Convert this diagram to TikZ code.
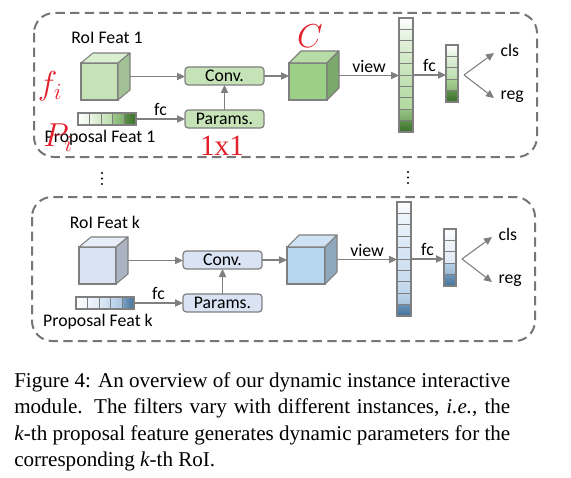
\documentclass[tikz,border=0pt]{standalone}
\usepackage{fontspec}
\setmainfont{Liberation Serif}
\newfontfamily\diafont{Carlito}
\usetikzlibrary{arrows.meta}
\definecolor{lc}{HTML}{7F7F7F}
\definecolor{dashc}{HTML}{767676}
\definecolor{annot}{HTML}{E3202B}
% green panel
\definecolor{gAfront}{HTML}{C6E3B7}
\definecolor{gAtop}{HTML}{DAEFD0}
\definecolor{gAside}{HTML}{A2C295}
\definecolor{gBfront}{HTML}{9DD087}
\definecolor{gBtop}{HTML}{B7DDA6}
\definecolor{gBside}{HTML}{7BA86B}
\definecolor{gbox}{HTML}{C6E3B7}
\definecolor{gmid}{HTML}{ADD79A}
\definecolor{gdark}{HTML}{3A7029}
% blue panel
\definecolor{bAfront}{HTML}{DAE3F3}
\definecolor{bAtop}{HTML}{E8EEF9}
\definecolor{bAside}{HTML}{ABB2C2}
\definecolor{bBfront}{HTML}{B5D6EE}
\definecolor{bBtop}{HTML}{CFE3F4}
\definecolor{bBside}{HTML}{8FA8BE}
\definecolor{bbox}{HTML}{DAE3F3}
\definecolor{bmid}{HTML}{C3D9EF}
\definecolor{bdark}{HTML}{41729C}
% bar shadings (path is mapped to 25bp..75bp)
\pgfdeclareverticalshading{gtall}{100bp}{color(0bp)=(gdark); color(25bp)=(gdark); color(29.9bp)=(gdark!70!gmid);
  color(30.1bp)=(gdark!45!gmid); color(34.9bp)=(gdark!20!gmid); color(35.1bp)=(gmid!95!white);
  color(45bp)=(gmid!78!white); color(55bp)=(gmid!60!white); color(65bp)=(gmid!38!white);
  color(70bp)=(gmid!20!white); color(75bp)=(white); color(100bp)=(white)}
\pgfdeclareverticalshading{btall}{100bp}{color(0bp)=(bdark); color(25bp)=(bdark); color(29.9bp)=(bdark!70!bmid);
  color(30.1bp)=(bmid!80!bdark); color(35bp)=(bmid!95!bdark); color(40bp)=(bmid!92!white);
  color(55bp)=(bmid!65!white); color(70bp)=(bmid!25!white); color(75bp)=(white); color(100bp)=(white)}
\pgfdeclareverticalshading{gsmall}{100bp}{color(0bp)=(gdark); color(25bp)=(gdark); color(34.9bp)=(gdark!70!gmid);
  color(35.1bp)=(gmid!72!gdark); color(44.9bp)=(gmid!95!gdark); color(45.1bp)=(gmid!85!white);
  color(55bp)=(gmid!60!white); color(65bp)=(gmid!35!white); color(75bp)=(white); color(100bp)=(white)}
\pgfdeclareverticalshading{bsmall}{100bp}{color(0bp)=(bdark); color(25bp)=(bdark); color(34.9bp)=(bdark!65!bmid);
  color(35.1bp)=(bdark!30!bmid); color(44.9bp)=(bdark!10!bmid); color(45.1bp)=(bmid!55!white);
  color(55bp)=(bmid!40!white); color(65bp)=(bmid!25!white); color(75bp)=(white); color(100bp)=(white)}
\pgfdeclarehorizontalshading{gprop}{100bp}{color(0bp)=(white); color(25bp)=(white); color(35bp)=(gmid!25!white);
  color(45bp)=(gmid!55!white); color(55bp)=(gmid!85!white); color(55.1bp)=(gmid!85!gdark);
  color(64.9bp)=(gmid!60!gdark); color(65.1bp)=(gdark!70!gmid); color(75bp)=(gdark); color(100bp)=(gdark)}
\pgfdeclarehorizontalshading{bprop}{100bp}{color(0bp)=(white); color(25bp)=(white); color(45bp)=(bmid!55!white);
  color(55bp)=(bmid); color(64.9bp)=(bmid!80!bdark); color(65.1bp)=(bdark!55!bmid);
  color(75bp)=(bdark); color(100bp)=(bdark)}
\tikzset{
  dashbox/.style={draw=dashc, line width=1.5pt, dash pattern=on 7pt off 4pt, rounded corners=15pt},
  face/.style={draw=lc, line width=0.8pt, outer sep=0pt, inner sep=0pt},
  faceline/.style={draw=lc, line width=0.8pt, line join=round},
  opbox/.style={draw=lc, line width=0.9pt, rounded corners=2.5pt, inner sep=0pt, outer sep=0pt,
    minimum width=59.25pt, minimum height=13.5pt, font=\diafont\fontsize{13.3}{15}\selectfont},
  arr/.style={draw=lc, line width=0.8pt, -{Triangle[length=6pt,width=5.5pt]}},
  featbar/.style={draw=lc, line width=0.8pt, inner sep=0pt, outer sep=0pt},
  cellline/.style={draw=lc, line width=0.6pt},
  lbl/.style={font=\diafont\fontsize{13.3}{15}\selectfont, inner sep=1pt},
  note/.style={text=annot, inner sep=0pt},
}
\newcommand\mypanel[4]{%
\begin{scope}[shift={(#3,#4)}]
  \draw[dashbox] (34,13) rectangle (537,157);
  \node[lbl] (#1roi) at (107,38) {RoI Feat #2};
  % RoI cube
  \node[face, fill=#1Afront, minimum width=27.75pt, minimum height=27.75pt] (#1ca) at (99.5,81.5) {};
  \draw[faceline, fill=#1Atop] (#1ca.north west) -- ++(12,-10) -- ++(37,0) -- (#1ca.north east) -- cycle;
  \draw[faceline, fill=#1Aside] (#1ca.north east) -- ++(12,-10) -- ++(0,37) -- (#1ca.south east) -- cycle;
  \coordinate (#1caout) at ([shift={(12,-5)}]#1ca.east);
  % proposal bar
  \node[featbar, minimum width=43.5pt, minimum height=9pt, shading=#1prop] (#1pb) at (107,119) {};
  \foreach \i in {1,...,4} \draw[cellline] ([xshift=\i*8.7pt]#1pb.north west) -- ([xshift=\i*8.7pt]#1pb.south west);
  \node[lbl] (#1pbl) at (100,138) {Proposal Feat #2};
  % ops
  \node[opbox, fill=#1box] (#1conv) at (224.5,76) {Conv.};
  \node[opbox, fill=#1box] (#1par) at (224.5,119) {Params.};
  \draw[arr] (#1caout) -- (#1caout -| #1conv.west);
  \draw[arr] (#1pb) -- (#1par) node[midway, above=1pt, lbl] {fc};
  \draw[arr] (#1par) -- (#1conv);
  % output cube
  \node[face, fill=#1Bfront, minimum width=28.5pt, minimum height=27.75pt] (#1cb) at (308,81.5) {};
  \draw[faceline, fill=#1Btop] (#1cb.north west) -- ++(12,-12) -- ++(38,0) -- (#1cb.north east) -- cycle;
  \draw[faceline, fill=#1Bside] (#1cb.north east) -- ++(12,-12) -- ++(0,37) -- (#1cb.south east) -- cycle;
  \coordinate (#1cbout) at ([shift={(12,-6)}]#1cb.east);
  \draw[arr] (#1conv) -- (#1conv -| #1cb.west);
  % tall bar
  \node[featbar, minimum width=10.5pt, minimum height=85.5pt, shading=#1tall] (#1tb) at (406,75) {};
  \foreach \i in {1,...,9} \draw[cellline] ([yshift=-\i*8.55pt]#1tb.north west) -- ([yshift=-\i*8.55pt]#1tb.north east);
  \draw[arr] (#1cbout) -- (#1cbout -| #1tb.west) node[midway, above=1pt, lbl] {view};
  % small bar
  \node[featbar, minimum width=9pt, minimum height=42.75pt, shading=#1small] (#1sb) at (452,73.5) {};
  \foreach \i in {1,...,4} \draw[cellline] ([yshift=-\i*8.55pt]#1sb.north west) -- ([yshift=-\i*8.55pt]#1sb.north east);
  \draw[arr] (#1tb.east) -- (#1tb.east -| #1sb.west) node[midway, above=1pt, lbl] {fc};
  % heads
  \coordinate (#1br) at (464,75);
  \coordinate (#1clsend) at (494,53);
  \coordinate (#1regend) at (494,98);
  \node[lbl, anchor=west] (#1cls) at (499,50) {cls};
  \node[lbl, anchor=west] (#1reg) at (499,97) {reg};
  \draw[arr] (#1br) -- (#1clsend);
  \draw[arr] (#1br) -- (#1regend);
\end{scope}}
\begin{document}
\begin{tikzpicture}[x=0.75pt,y=-0.75pt]
\fill[white] (0,0) rectangle (571,478);
\useasboundingbox (0,0) rectangle (571,478);
\mypanel{g}{1}{0}{0}
\mypanel{b}{k}{-2}{184}
% dots
\foreach \yy in {173,178.5,184} \fill[black] (102,\yy) circle (1.2);
\foreach \yy in {172,177.5,183} \fill[black] (408,\yy) circle (1.2);
% handwritten annotations
\node[note, font=\fontsize{24}{24}\selectfont] (an1) at (50,86) {$f_i$};
\node[note, font=\fontsize{26}{26}\selectfont] (an2) at (58,138) {$P_i$};
\node[note, font=\fontsize{28}{28}\selectfont] (an3) at (310,36) {$C$};
\node[note, font=\fontsize{22}{22}\selectfont] (an4) at (222,146) {1x1};
% caption
\node[anchor=north west, inner sep=0pt, text width=372pt, align=justify,
      font=\fontsize{15.8}{19.9}\selectfont] (cap) at (14,372)
 {Figure 4: An overview of our dynamic instance interactive\linebreak
  module. The filters vary with different instances, \textit{i.e.}, the\linebreak
  \textit{k}-th proposal feature generates dynamic parameters for the\linebreak
  corresponding \textit{k}-th RoI.};
\end{tikzpicture}
\end{document}
